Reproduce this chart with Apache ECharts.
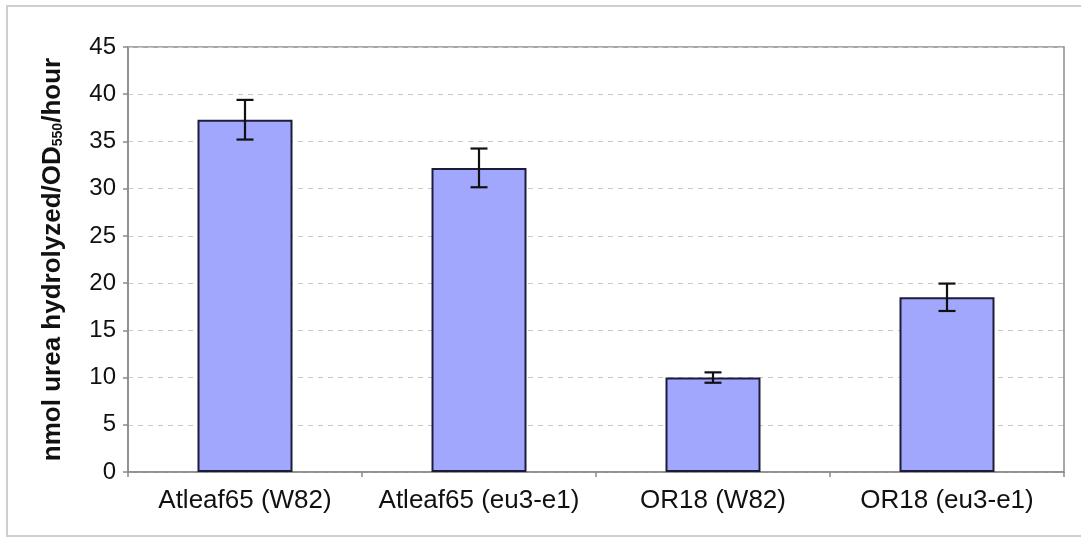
<!DOCTYPE html>
<html>
<head>
<meta charset="utf-8">
<script src="https://cdn.jsdelivr.net/npm/echarts@6/dist/echarts.min.js"></script>
<style>html,body{margin:0;padding:0;background:#fff;}#chart{width:1081px;height:546px;}</style>
</head>
<body>
<div id="chart"></div>
<script>
const categories = ['Atleaf65 (W82)', 'Atleaf65 (eu3-e1)', 'OR18 (W82)', 'OR18 (eu3-e1)'];
const values = [37.3, 32.2, 10.0, 18.5];
const errors = [2.1, 2.05, 0.55, 1.45];
const yTicks = [0, 5, 10, 15, 20, 25, 30, 35, 40, 45];

const chart = echarts.init(document.getElementById('chart'), null, {renderer: 'canvas'});
const errData = values.map((v, i) => [i, v - errors[i], v + errors[i]]);

chart.setOption({
  animation: false,
  backgroundColor: '#ffffff',
  textStyle: {fontFamily: '"Liberation Sans", Arial, sans-serif'},
  graphic: [{
    type: 'rect',
    shape: {x: 7, y: 6, width: 1080, height: 530},
    style: {fill: 'none', stroke: '#CFCFCF', lineWidth: 2},
    silent: true, z: -10
  }],
  grid: {
    left: 128, right: 17, top: 47, bottom: 74,
    show: true, borderColor: '#8A8A8A', borderWidth: 1.5, backgroundColor: 'transparent'
  },
  xAxis: {
    type: 'category',
    data: categories,
    axisLine: {lineStyle: {color: '#8A8A8A', width: 1.5}},
    axisTick: {show: true, alignWithLabel: false, length: 5, lineStyle: {color: '#8A8A8A', width: 1.5}},
    axisLabel: {interval: 0, hideOverlap: false, color: '#111', fontSize: 26, margin: 16, fontFamily: '"Liberation Sans", Arial, sans-serif'},
    splitLine: {show: false}
  },
  yAxis: {
    type: 'value',
    min: yTicks[0], max: yTicks[yTicks.length - 1], interval: 5,
    name: '{m|nmol urea hydrolyzed/OD}{s|550}{m|/hour}',
    nameLocation: 'middle',
    nameRotate: 90,
    nameGap: 61,
    nameTextStyle: {
      rich: {
        m: {fontSize: 26, fontWeight: 'bold', color: '#111', fontFamily: '"Liberation Sans", Arial, sans-serif', lineHeight: 28},
        s: {fontSize: 14, fontWeight: 'bold', color: '#111', fontFamily: '"Liberation Sans", Arial, sans-serif', verticalAlign: 'bottom', lineHeight: 15, padding: [0, 0, 2, 0]}
      }
    },
    axisLine: {show: true, lineStyle: {color: '#8A8A8A', width: 1.5}},
    axisTick: {show: true, length: 5, lineStyle: {color: '#8A8A8A', width: 1.5}},
    axisLabel: {color: '#111', fontSize: 24, margin: 12, fontFamily: '"Liberation Sans", Arial, sans-serif'},
    splitLine: {show: true, lineStyle: {color: '#C8C8C8', type: [5, 5], width: 1}}
  },
  series: [
    {
      type: 'bar',
      data: values,
      barWidth: 95,
      itemStyle: {color: '#A1A7FD', borderColor: '#1C1C3A', borderWidth: 2},
      z: 2
    },
    {
      type: 'custom',
      data: errData,
      z: 5,
      renderItem: function (params, api) {
        const x = api.value(0);
        const lo = api.coord([x, api.value(1)]);
        const hi = api.coord([x, api.value(2)]);
        const half = 8.5;
        const st = {stroke: '#111', lineWidth: 2.2};
        return {
          type: 'group',
          children: [
            {type: 'line', shape: {x1: lo[0], y1: lo[1], x2: hi[0], y2: hi[1]}, style: st},
            {type: 'line', shape: {x1: lo[0] - half, y1: lo[1], x2: lo[0] + half, y2: lo[1]}, style: st},
            {type: 'line', shape: {x1: hi[0] - half, y1: hi[1], x2: hi[0] + half, y2: hi[1]}, style: st}
          ]
        };
      }
    }
  ]
});
</script>
</body>
</html>
